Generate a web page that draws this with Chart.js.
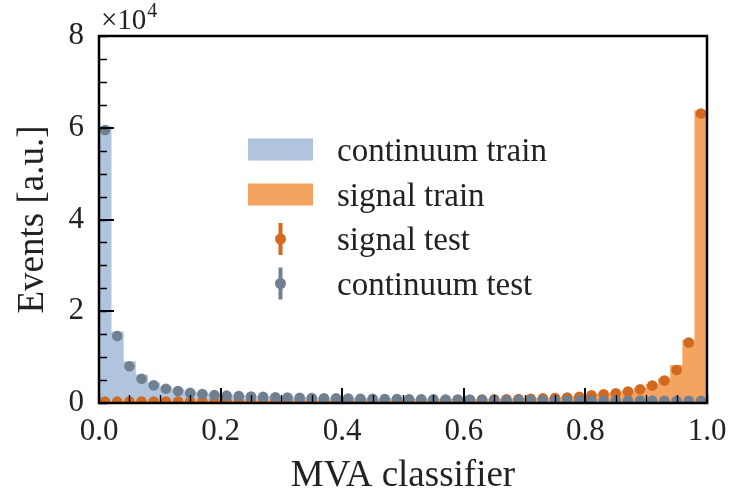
<!DOCTYPE html>
<html>
<head>
<meta charset="utf-8">
<title>MVA classifier output</title>
<script src="https://cdn.jsdelivr.net/npm/chart.js@4.4.1/dist/chart.umd.min.js"></script>
<style>
  html, body { margin: 0; padding: 0; background: #ffffff; }
  #wrap { width: 731px; height: 498px; }
</style>
</head>
<body>
<div id="wrap"><canvas id="c" width="731" height="498"></canvas></div>
<script>
// Bin centres of the classifier output histogram (50 bins of width 0.02 on [0, 1])
const binCenters = [
  0.01, 0.03, 0.05, 0.07, 0.09, 0.11, 0.13, 0.15, 0.17, 0.19,
  0.21, 0.23, 0.25, 0.27, 0.29, 0.31, 0.33, 0.35, 0.37, 0.39,
  0.41, 0.43, 0.45, 0.47, 0.49, 0.51, 0.53, 0.55, 0.57, 0.59,
  0.61, 0.63, 0.65, 0.67, 0.69, 0.71, 0.73, 0.75, 0.77, 0.79,
  0.81, 0.83, 0.85, 0.87, 0.89, 0.91, 0.93, 0.95, 0.97, 0.99
];

// Training samples (filled histograms)
const continuumTrain = [
  60300, 15500, 9000, 6100, 4400, 3500, 2900, 2450, 2150, 1930,
  1760, 1640, 1540, 1460, 1390, 1320, 1260, 1210, 1160, 1110,
  1070, 1030, 1000, 970, 940, 910, 880, 860, 840, 810,
  790, 770, 760, 740, 720, 700, 690, 670, 660, 650,
  630, 620, 600, 590, 570, 560, 550, 530, 520, 510
];
const signalTrain = [
  320, 320, 330, 330, 340, 340, 350, 350, 360, 370,
  370, 380, 390, 400, 410, 420, 430, 440, 450, 460,
  480, 500, 520, 540, 560, 580, 600, 630, 660, 700,
  740, 780, 820, 870, 930, 990, 1060, 1150, 1280, 1450,
  1780, 2000, 2250, 2650, 3200, 4050, 5300, 8200, 13700, 63700
];

// Test samples (markers)
const signalTest = [
  300, 300, 310, 310, 320, 320, 330, 330, 340, 350,
  350, 360, 370, 380, 390, 400, 410, 420, 430, 440,
  450, 470, 490, 510, 530, 550, 570, 600, 630, 660,
  700, 740, 780, 830, 880, 940, 1000, 1080, 1200, 1370,
  1700, 1900, 2100, 2500, 3000, 3800, 4900, 7200, 13200, 63100
];
const continuumTest = [
  59500, 14600, 8000, 5300, 3850, 3100, 2600, 2200, 1950, 1750,
  1600, 1500, 1400, 1330, 1260, 1200, 1150, 1100, 1050, 1010,
  970, 940, 910, 880, 850, 820, 800, 780, 760, 740,
  720, 700, 690, 670, 660, 640, 630, 610, 600, 590,
  570, 560, 550, 530, 520, 510, 500, 480, 470, 460
];

// Axis ticks
const xMajorTicks = [0.0, 0.2, 0.4, 0.6, 0.8, 1.0];
const xMinorStep = 0.05;
const yMajorTicks = [0, 20000, 40000, 60000, 80000];
const yMinorStep = 5000;
const yScaleFactor = 1e4;

const COLORS = {
  continuumTrain: '#b0c4de',
  signalTrain: '#f4a460',
  signalTest: '#d2691e',
  continuumTest: '#708090'
};
const SERIF = '"Liberation Serif", "DejaVu Serif", serif';

const toXY = (vals) => vals.map((v, i) => ({ x: binCenters[i], y: v }));

// Frame, inward tick marks, offset text and legend
const decorations = {
  id: 'decorations',
  afterDraw(chart) {
    const { ctx, chartArea: a, scales: { x, y } } = chart;
    ctx.save();
    ctx.strokeStyle = '#000';
    ctx.lineCap = 'butt';

    // minor ticks
    ctx.lineWidth = 1.4;
    ctx.beginPath();
    for (let v = 0; v <= 1.0001; v += xMinorStep) {
      const px = Math.round(x.getPixelForValue(v)) + 0.5;
      ctx.moveTo(px, a.bottom); ctx.lineTo(px, a.bottom - 8);
    }
    for (let v = 0; v <= 80000; v += yMinorStep) {
      const py = Math.round(y.getPixelForValue(v)) + 0.5;
      ctx.moveTo(a.left, py); ctx.lineTo(a.left + 8, py);
    }
    ctx.stroke();

    // major ticks
    ctx.lineWidth = 2;
    ctx.beginPath();
    xMajorTicks.forEach(v => {
      const px = Math.round(x.getPixelForValue(v));
      ctx.moveTo(px, a.bottom); ctx.lineTo(px, a.bottom - 15);
    });
    yMajorTicks.forEach(v => {
      const py = Math.round(y.getPixelForValue(v));
      ctx.moveTo(a.left, py); ctx.lineTo(a.left + 15, py);
    });
    ctx.stroke();

    // frame
    ctx.lineWidth = 2.5;
    ctx.strokeRect(a.left, a.top, a.right - a.left, a.bottom - a.top);

    // offset text of the y axis
    ctx.fillStyle = '#222';
    ctx.textBaseline = 'alphabetic';
    ctx.textAlign = 'left';
    ctx.font = '29px ' + SERIF;
    ctx.fillText('\u00d710', a.left + 2, 29);
    const w = ctx.measureText('\u00d710').width;
    ctx.font = '20px ' + SERIF;
    ctx.fillText('4', a.left + 2 + w + 1, 17);

    // legend
    const lx = 248, boxW = 65, boxH = 22, textX = 337;
    const rows = [
      { label: 'continuum train', kind: 'box', color: COLORS.continuumTrain, cy: 149.5 },
      { label: 'signal train', kind: 'box', color: COLORS.signalTrain, cy: 194.5 },
      { label: 'signal test', kind: 'err', color: COLORS.signalTest, cy: 239 },
      { label: 'continuum test', kind: 'err', color: COLORS.continuumTest, cy: 283.5 }
    ];
    rows.forEach(r => {
      if (r.kind === 'box') {
        ctx.fillStyle = r.color;
        ctx.fillRect(lx, r.cy - boxH / 2, boxW, boxH);
      } else {
        const cx = lx + boxW / 2;
        ctx.strokeStyle = r.color;
        ctx.lineWidth = 4;
        ctx.beginPath();
        ctx.moveTo(cx, r.cy - 16); ctx.lineTo(cx, r.cy + 16);
        ctx.stroke();
        ctx.fillStyle = r.color;
        ctx.beginPath();
        ctx.arc(cx, r.cy, 5.5, 0, Math.PI * 2);
        ctx.fill();
      }
      ctx.fillStyle = '#222';
      ctx.font = '33px ' + SERIF;
      ctx.textAlign = 'left';
      ctx.textBaseline = 'alphabetic';
      ctx.fillText(r.label, textX, r.cy + 11);
    });
    ctx.restore();
  }
};

new Chart(document.getElementById('c'), {
  data: {
    datasets: [
      {
        type: 'scatter', label: 'continuum test', data: toXY(continuumTest),
        backgroundColor: COLORS.continuumTest, borderWidth: 0,
        pointRadius: 5.3, pointHoverRadius: 5.3, clip: 0, order: 1
      },
      {
        type: 'scatter', label: 'signal test', data: toXY(signalTest),
        backgroundColor: COLORS.signalTest, borderWidth: 0,
        pointRadius: 5.3, pointHoverRadius: 5.3, clip: 0, order: 2
      },
      {
        type: 'bar', label: 'signal train', data: toXY(signalTrain),
        backgroundColor: COLORS.signalTrain, borderWidth: 0,
        barPercentage: 1, categoryPercentage: 1, grouped: false, order: 3
      },
      {
        type: 'bar', label: 'continuum train', data: toXY(continuumTrain),
        backgroundColor: COLORS.continuumTrain, borderWidth: 0,
        barPercentage: 1, categoryPercentage: 1, grouped: false, order: 4
      }
    ]
  },
  options: {
    responsive: false,
    animation: false,
    devicePixelRatio: 1,
    layout: { padding: { top: 36, right: 24, left: 0, bottom: 0 } },
    plugins: { legend: { display: false }, tooltip: { enabled: false } },
    events: [],
    scales: {
      x: {
        type: 'linear', min: 0, max: 1, offset: false,
        afterFit: (s) => { s.height = 95; s.paddingLeft = 0; s.paddingRight = 0; },
        afterBuildTicks: (s) => { s.ticks = xMajorTicks.map(v => ({ value: v })); },
        grid: { display: false, drawTicks: false, offset: false },
        border: { display: false },
        ticks: {
          padding: 10, color: '#222',
          font: { family: SERIF, size: 31, lineHeight: 1.2 },
          callback: (v) => Number(v).toFixed(1)
        },
        title: {
          display: true, text: 'MVA classifier', color: '#222',
          font: { family: SERIF, size: 37, lineHeight: 1.2 },
          padding: { top: 0, bottom: 0 }
        }
      },
      y: {
        type: 'linear', min: 0, max: 80000,
        afterFit: (s) => { s.width = 99; s.paddingTop = 0; s.paddingBottom = 0; },
        afterBuildTicks: (s) => { s.ticks = yMajorTicks.map(v => ({ value: v })); },
        grid: { display: false, drawTicks: false },
        border: { display: false },
        ticks: {
          padding: 15, color: '#222',
          font: { family: SERIF, size: 31, lineHeight: 1.2 },
          callback: (v) => String(Math.round(v / yScaleFactor))
        },
        title: {
          display: true, text: 'Events [a.u.]', color: '#222',
          font: { family: SERIF, size: 37, lineHeight: 1.2 },
          padding: { top: 11, bottom: 0 }
        }
      }
    }
  },
  plugins: [decorations]
});
</script>
</body>
</html>
